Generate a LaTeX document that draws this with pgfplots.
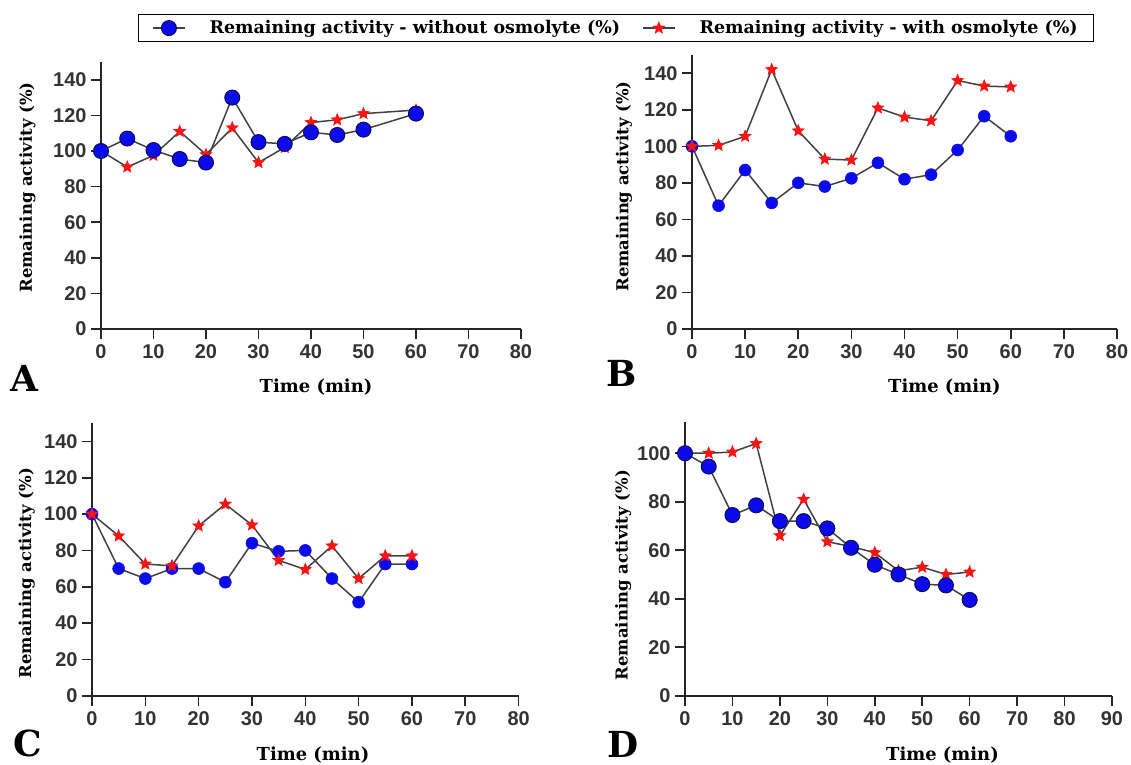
\documentclass[border=0pt]{standalone}
\usepackage{fontspec}
\setmainfont{DejaVu Serif}
\newfontfamily\tickfont{Liberation Sans}
\usepackage{pgfplots}
\pgfplotsset{compat=1.18}

\definecolor{ptblue}{RGB}{10,10,235}
\definecolor{ptnavy}{RGB}{10,10,90}
\definecolor{ptred}{RGB}{250,20,20}
\definecolor{ptline}{RGB}{65,65,65}

% filled five-point star
\pgfdeclareplotmark{fstar}{%
  \pgfpathmoveto{\pgfpointpolar{90}{\pgfplotmarksize}}%
  \pgfpathlineto{\pgfpointpolar{126}{0.45\pgfplotmarksize}}%
  \pgfpathlineto{\pgfpointpolar{162}{\pgfplotmarksize}}%
  \pgfpathlineto{\pgfpointpolar{198}{0.45\pgfplotmarksize}}%
  \pgfpathlineto{\pgfpointpolar{234}{\pgfplotmarksize}}%
  \pgfpathlineto{\pgfpointpolar{270}{0.45\pgfplotmarksize}}%
  \pgfpathlineto{\pgfpointpolar{306}{\pgfplotmarksize}}%
  \pgfpathlineto{\pgfpointpolar{342}{0.45\pgfplotmarksize}}%
  \pgfpathlineto{\pgfpointpolar{18}{\pgfplotmarksize}}%
  \pgfpathlineto{\pgfpointpolar{54}{0.45\pgfplotmarksize}}%
  \pgfpathclose
  \pgfusepathqfill
}

\pgfplotsset{
  panel/.style={
    scale only axis, anchor=south west,
    axis x line*=bottom, axis y line*=left,
    axis line style={line width=1.8bp, color=black!85},
    tick style={line width=1.6bp, color=black!85},
    tick align=outside, major tick length=10bp,
    xmin=0, xmax=80, ymin=0, ymax=150,
    xtick={0,10,...,80}, ytick={0,20,...,140},
    ticklabel style={font=\tickfont\bfseries\fontsize{20}{20}\selectfont, text=black!80},
    xticklabel style={yshift=-2bp},
    yticklabel style={xshift=-1bp},
    /pgf/number format/assume math mode=true,
    clip=false,
    xlabel style={font=\bfseries\fontsize{18}{18}\selectfont, anchor=center},
    ylabel style={font=\bfseries\fontsize{16.5}{16.5}\selectfont, anchor=center},
    ylabel={Remaining activity (\%)},
    xlabel={Time (min)},
  },
  noosmo/.style={ptline, line width=1.5bp, mark=*, mark size=7.5bp,
    mark options={fill=ptblue, draw=ptnavy, line width=1bp}},
  noosmosmall/.style={ptline, line width=1.5bp, mark=*, mark size=6bp,
    mark options={fill=ptblue, draw=ptblue, line width=0.5bp}},
  withosmo/.style={ptline, line width=1.5bp, mark=fstar, mark size=7bp,
    mark options={fill=ptred, draw=ptred}},
}

\begin{document}
\begin{tikzpicture}
\useasboundingbox (0,0) rectangle (1131bp,765bp);

% ---- A ----
\begin{axis}[panel, at={(101bp,436bp)}, width=420bp, height=267bp,
  ylabel style={at={(axis description cs:-0.175,0.53)}},
  xlabel style={at={(axis description cs:0.512,-0.217)}},
  legend columns=2,
  legend cell align=left,
  legend style={at={(axis description cs:1.226,1.127)}, anchor=center,
    draw=black, line width=1.3bp, font=\bfseries\fontsize{17.5}{17.5}\selectfont,
    /tikz/every even column/.append style={column sep=20bp},
    inner xsep=14bp, inner ysep=4bp},
  legend image code/.code={%
    \draw[mark repeat=2,mark phase=2] plot coordinates {(0bp,0bp) (16bp,0bp) (32bp,0bp)};
    \path (54bp,0bp);},
]
\addlegendimage{noosmo}
\addlegendentry{Remaining activity - without osmolyte (\%)}
\addlegendimage{withosmo}
\addlegendentry{Remaining activity - with osmolyte (\%)}
\addplot[withosmo, forget plot] coordinates {
  (0,100)(5,91)(10,97.5)(15,111)(20,98)(25,113)(30,93.5)(35,102)(40,116)(45,117.5)(50,121)(60,123)};
\addplot[noosmo, forget plot] coordinates {
  (0,100)(5,107)(10,100.5)(15,95.5)(20,93.5)(25,130)(30,105)(35,104)(40,110.5)(45,109)(50,112)(60,121)};
\end{axis}

% ---- B ----
\begin{axis}[panel, at={(692bp,436bp)}, width=425bp, height=274bp,
  ylabel style={at={(axis description cs:-0.160,0.52)}},
  xlabel style={at={(axis description cs:0.594,-0.212)}},
]
\addplot[noosmosmall] coordinates {
  (0,100)(5,67.5)(10,87)(15,69)(20,80)(25,78)(30,82.5)(35,91)(40,82)(45,84.5)(50,98)(55,116.5)(60,105.5)};
\addplot[withosmo] coordinates {
  (0,100)(5,100.5)(10,105.5)(15,142)(20,108.5)(25,93)(30,92.5)(35,121)(40,116)(45,114)(50,136)(55,133)(60,132.5)};
\end{axis}

% ---- C ----
\begin{axis}[panel, at={(92bp,69.3bp)}, width=426.6bp, height=272.4bp,
  ylabel style={at={(axis description cs:-0.153,0.45)}},
  xlabel style={at={(axis description cs:0.518,-0.217)}},
]
\addplot[noosmosmall] coordinates {
  (0,100)(5,70)(10,64.5)(15,70)(20,70)(25,62.5)(30,84)(35,79.5)(40,80)(45,64.5)(50,51.5)(55,72.5)(60,72.5)};
\addplot[withosmo] coordinates {
  (0,100)(5,88)(10,72.5)(15,71.5)(20,93.5)(25,105.5)(30,94)(35,74.5)(40,69.5)(45,82.5)(50,64.5)(55,77)(60,77)};
\end{axis}

% ---- D ----
\begin{axis}[panel, at={(685bp,69.3bp)}, width=427bp, height=274bp,
  xmax=90, ymax=113, xtick={0,10,...,90}, ytick={0,20,...,100},
  ylabel style={at={(axis description cs:-0.145,0.44)}},
  xlabel style={at={(axis description cs:0.603,-0.216)}},
]
\addplot[withosmo] coordinates {
  (0,100)(5,100)(10,100.5)(15,104)(20,66)(25,81)(30,63.5)(35,61.5)(40,59)(45,51.5)(50,53)(55,50)(60,51)};
\addplot[noosmo] coordinates {
  (0,100)(5,94.5)(10,74.5)(15,78.5)(20,72)(25,72)(30,69)(35,61)(40,54)(45,50)(50,46)(55,45.5)(60,39.5)};
\end{axis}

% panel letters
\tikzset{letter/.style={font=\bfseries\fontsize{36}{36}\selectfont, inner sep=0pt, anchor=base}}
\node[letter] at (24bp,373bp) {A};
\node[letter] at (622bp,378bp) {B};
\node[letter] at (28bp,9bp) {C};
\node[letter] at (623bp,8bp) {D};
\end{tikzpicture}
\end{document}
